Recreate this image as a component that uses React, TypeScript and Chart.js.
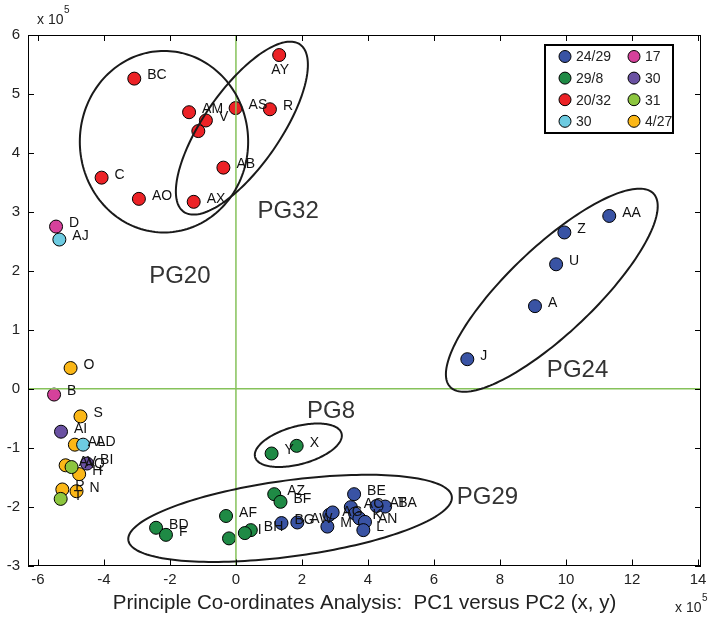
import React, { useEffect, useRef } from "react";
import { Chart, registerables } from "chart.js";

Chart.register(...registerables);

// ---------- data ----------
const seriesNames = ["24/29", "29/8", "20/32", "30", "17", "30", "31", "4/27"];
const seriesColors = ["#3953a4", "#1f8a45", "#ec2226", "#6dcbe1", "#d6419b", "#6a51a2", "#8dc63f", "#fbb717"];

// 24/29 (blue)
const blueLabels = ["AA", "Z", "U", "A", "J", "BG", "AW", "M", "AG", "", "BE", "AC", "", "K", "AN", "L", "BA", "AT"];
const blueX = [11.31, 9.95, 9.7, 9.06, 7.01, 1.38, 1.86, 2.77, 2.83, 2.93, 3.58, 3.48, 3.61, 3.74, 3.91, 3.86, 4.52, 4.26];
const blueY = [2.93, 2.65, 2.11, 1.4, 0.5, -2.28, -2.27, -2.34, -2.14, -2.1, -1.79, -2.01, -2.12, -2.2, -2.26, -2.4, -2.0, -1.99];

// 29/8 (green)
const greenLabels = ["BD", "F", "AF", "", "BH", "I", "AZ", "BF", "Y", "X"];
const greenX = [-2.42, -2.12, -0.3, -0.21, 0.45, 0.27, 1.16, 1.35, 1.08, 1.84];
const greenY = [-2.36, -2.48, -2.16, -2.54, -2.4, -2.45, -1.79, -1.92, -1.1, -0.97];

// 20/32 (red)
const redLabels = ["BC", "AY", "AM", "V", "", "AS", "R", "AB", "C", "AO", "AX"];
const redX = [-3.08, 1.31, -1.42, -0.91, -1.14, -0.01, 1.03, -0.38, -4.07, -2.94, -1.28];
const redY = [5.26, 5.66, 4.69, 4.55, 4.37, 4.76, 4.74, 3.75, 3.58, 3.22, 3.17];

// 30 (cyan)
const cyanLabels = ["AJ", "AD"];
const cyanX = [-5.35, -4.63];
const cyanY = [2.53, -0.95];

// 17 (pink)
const pinkLabels = ["D", "B"];
const pinkX = [-5.45, -5.51];
const pinkY = [2.75, -0.1];

// 30 (purple)
const purpleLabels = ["AI", "BI"];
const purpleX = [-5.3, -4.51];
const purpleY = [-0.73, -1.27];

// 31 (light green)
const limeLabels = ["AQ", "T"];
const limeX = [-4.98, -5.31];
const limeY = [-1.33, -1.87];

// 4/27 (yellow)
const yellowLabels = ["O", "S", "AL", "AV", "H", "P", "N"];
const yellowX = [-5.01, -4.71, -4.88, -5.16, -4.75, -5.26, -4.83];
const yellowY = [0.35, -0.47, -0.95, -1.3, -1.45, -1.71, -1.74];

const labelsBelow = ["AY"];

// group ellipses (centre, half-axis vector u, half-axis vector v) in data units
const ellipseCx = [-2.18, 0.18, 9.57, 1.89, 1.64];
const ellipseCy = [4.19, 4.42, 1.67, -0.96, -2.2];
const ellipseUx = [2.55, 1.76, 3.08, 1.31, 4.9];
const ellipseUy = [0, 1.42, 1.64, 0.2, 0.37];
const ellipseVx = [0, 0.95, 0.9, 0.15, 0.15];
const ellipseVy = [1.54, -0.37, -0.53, -0.31, -0.64];

const groupNames = ["PG20", "PG32", "PG24", "PG8", "PG29"];
const groupLabelX = [-1.7, 1.58, 10.35, 2.88, 7.62];
const groupLabelY = [1.91, 3.01, 0.31, -0.39, -1.85];

const xTicks = [-6, -4, -2, 0, 2, 4, 6, 8, 10, 12, 14];
const yTicks = [-3, -2, -1, 0, 1, 2, 3, 4, 5, 6];
const xMin = -6.3;
const xMax = 14.09;
const yMin = -3;
const yMax = 6;

const xTitle = "Principle Co-ordinates Analysis:  PC1 versus PC2 (x, y)";

const seriesLabels = [blueLabels, greenLabels, redLabels, cyanLabels, pinkLabels, purpleLabels, limeLabels, yellowLabels];
const seriesX = [blueX, greenX, redX, cyanX, pinkX, purpleX, limeX, yellowX];
const seriesY = [blueY, greenY, redY, cyanY, pinkY, purpleY, limeY, yellowY];

const FONT = '"Liberation Sans", Arial, Helvetica, sans-serif';

const overlayPlugin = {
  id: "overlay",
  beforeDraw(chart: any) {
    const ctx = chart.ctx;
    ctx.save();
    ctx.fillStyle = "#ffffff";
    ctx.fillRect(0, 0, chart.width, chart.height);
    ctx.restore();
  },
  afterDatasetsDraw(chart: any) {
    const ctx = chart.ctx;
    const xs = chart.scales.x;
    const ys = chart.scales.y;
    const area = chart.chartArea;
    const px = (v: number) => xs.getPixelForValue(v);
    const py = (v: number) => ys.getPixelForValue(v);

    ctx.save();
    // zero lines
    ctx.strokeStyle = "#86c25a";
    ctx.lineWidth = 1.5;
    ctx.beginPath();
    ctx.moveTo(px(0), area.top);
    ctx.lineTo(px(0), area.bottom);
    ctx.moveTo(area.left, py(0));
    ctx.lineTo(area.right, py(0));
    ctx.stroke();

    // ellipses
    ctx.strokeStyle = "#1a1a1a";
    ctx.lineWidth = 2;
    for (let e = 0; e < ellipseCx.length; e++) {
      ctx.beginPath();
      for (let k = 0; k <= 180; k++) {
        const t = (k / 180) * Math.PI * 2;
        const dx = ellipseCx[e] + ellipseUx[e] * Math.cos(t) + ellipseVx[e] * Math.sin(t);
        const dy = ellipseCy[e] + ellipseUy[e] * Math.cos(t) + ellipseVy[e] * Math.sin(t);
        if (k === 0) ctx.moveTo(px(dx), py(dy));
        else ctx.lineTo(px(dx), py(dy));
      }
      ctx.closePath();
      ctx.stroke();
    }

    // point labels
    ctx.fillStyle = "#111111";
    ctx.font = `14px ${FONT}`;
    chart.data.datasets.forEach((ds: any, di: number) => {
      const meta = chart.getDatasetMeta(di);
      meta.data.forEach((el: any, i: number) => {
        const lab = seriesLabels[di][i];
        if (!lab) return;
        if (labelsBelow.includes(lab)) {
          ctx.textAlign = "center";
          ctx.textBaseline = "middle";
          ctx.fillText(lab, el.x + 1, el.y + 15);
        } else {
          ctx.textAlign = "left";
          ctx.textBaseline = "middle";
          ctx.fillText(lab, el.x + 13, el.y - 3);
        }
      });
    });

    // group labels
    ctx.fillStyle = "#333333";
    ctx.font = `24px ${FONT}`;
    ctx.textAlign = "center";
    ctx.textBaseline = "middle";
    for (let g = 0; g < groupNames.length; g++) {
      ctx.fillText(groupNames[g], px(groupLabelX[g]), py(groupLabelY[g]));
    }

    // frame + inward ticks
    ctx.strokeStyle = "#000000";
    ctx.lineWidth = 1;
    ctx.strokeRect(Math.round(area.left) + 0.5, Math.round(area.top) + 0.5, Math.round(area.right - area.left) - 1, Math.round(area.bottom - area.top) - 1);
    ctx.beginPath();
    const tl = 6;
    xTicks.forEach((v) => {
      const x = Math.round(px(v)) + 0.5;
      ctx.moveTo(x, area.bottom);
      ctx.lineTo(x, area.bottom - tl);
      ctx.moveTo(x, area.top);
      ctx.lineTo(x, area.top + tl);
    });
    yTicks.forEach((v) => {
      const y = Math.round(py(v)) + 0.5;
      ctx.moveTo(area.left, y);
      ctx.lineTo(area.left + tl, y);
      ctx.moveTo(area.right, y);
      ctx.lineTo(area.right - tl, y);
    });
    ctx.stroke();

    // legend
    const lx = 545, ly = 45, lw = 128, lh = 88;
    ctx.lineWidth = 2;
    ctx.fillStyle = "#ffffff";
    ctx.fillRect(lx, ly, lw, lh);
    ctx.strokeRect(lx, ly, lw, lh);
    ctx.font = `14px ${FONT}`;
    ctx.textAlign = "left";
    ctx.textBaseline = "middle";
    for (let i = 0; i < seriesNames.length; i++) {
      const col = i < 4 ? 0 : 1;
      const row = i % 4;
      const cx = col === 0 ? 565 : 634;
      const cy = 56.5 + row * 21.6;
      ctx.beginPath();
      ctx.arc(cx, cy, 6, 0, Math.PI * 2);
      ctx.fillStyle = seriesColors[i];
      ctx.fill();
      ctx.lineWidth = 1;
      ctx.strokeStyle = "#000000";
      ctx.stroke();
      ctx.fillStyle = "#222222";
      ctx.fillText(seriesNames[i], cx + 11, cy + 1);
    }

    // exponent labels
    ctx.fillStyle = "#222222";
    ctx.textAlign = "left";
    ctx.textBaseline = "alphabetic";
    ctx.font = `14px ${FONT}`;
    ctx.fillText("x 10", 37, 24);
    ctx.fillText("x 10", 675, 612);
    ctx.font = `10px ${FONT}`;
    ctx.fillText("5", 64, 13);
    ctx.fillText("5", 702, 601);
    ctx.restore();
  },
};

export default function App() {
  const ref = useRef<HTMLCanvasElement | null>(null);
  useEffect(() => {
    if (!ref.current) return;
    const datasets = seriesNames.map((name, i) => ({
      label: name,
      data: seriesX[i].map((x, k) => ({ x, y: seriesY[i][k] })),
      backgroundColor: seriesColors[i],
      borderColor: "#000000",
      borderWidth: 1,
      pointRadius: 6.5,
      pointHoverRadius: 6.5,
      pointStyle: "circle",
    }));
    const chart = new Chart(ref.current, {
      type: "scatter",
      data: { datasets },
      plugins: [overlayPlugin],
      options: {
        animation: false,
        responsive: false,
        devicePixelRatio: 1,
        events: [],
        layout: { padding: { left: 0, right: 11, top: 35, bottom: 0 } },
        plugins: { legend: { display: false }, tooltip: { enabled: false }, title: { display: false } },
        scales: {
          x: {
            type: "linear",
            min: xMin,
            max: xMax,
            grid: { display: false, drawTicks: false },
            border: { display: false },
            afterBuildTicks: (s: any) => {
              s.ticks = xTicks.map((v) => ({ value: v }));
            },
            afterFit: (s: any) => {
              s.height = 58.5;
            },
            ticks: {
              autoSkip: false,
              maxRotation: 0,
              padding: 5,
              color: "#222222",
              font: { family: FONT, size: 15 },
              callback: (v: any) => String(v),
            },
            title: {
              display: true,
              text: xTitle,
              color: "#222222",
              font: { family: FONT, size: 20.5 },
              padding: { top: 0, bottom: 8.5 },
            },
          },
          y: {
            type: "linear",
            min: yMin,
            max: yMax,
            grid: { display: false, drawTicks: false },
            border: { display: false },
            afterBuildTicks: (s: any) => {
              s.ticks = yTicks.map((v) => ({ value: v }));
            },
            afterFit: (s: any) => {
              s.width = 28;
            },
            ticks: {
              autoSkip: false,
              padding: 8,
              color: "#222222",
              font: { family: FONT, size: 15 },
              callback: (v: any) => String(v),
            },
          },
        },
      },
    });
    return () => chart.destroy();
  }, []);
  return (
    <div style={{ position: "fixed", left: 0, top: 0, width: 712, height: 624, background: "#fff" }}>
      <canvas ref={ref} width={712} height={624} style={{ display: "block" }} />
    </div>
  );
}
